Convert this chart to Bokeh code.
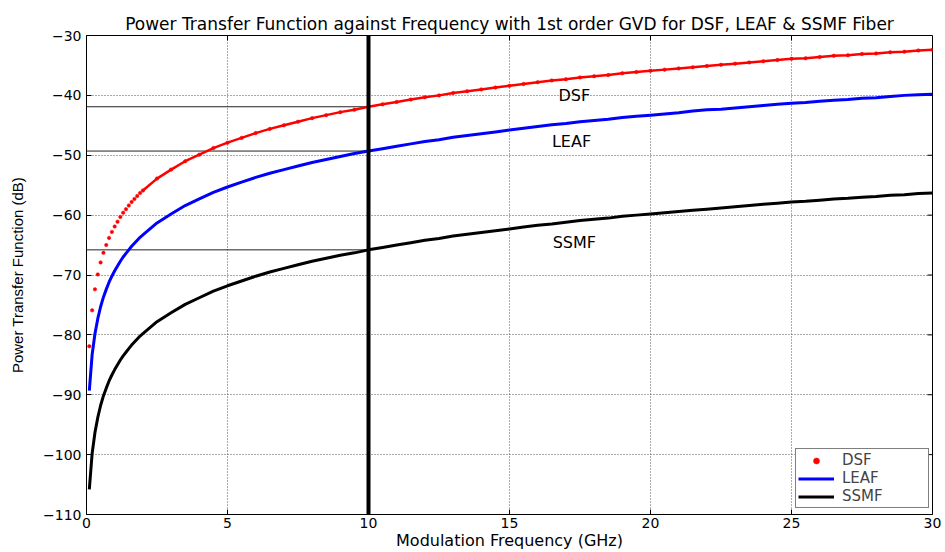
import math
from bokeh.plotting import figure
from bokeh.models import (Span, FixedTicker, Legend, LegendItem,
                          Range1d, ColumnDataSource)
from bokeh.embed import file_html
from bokeh.resources import INLINE

# ---------------- data ----------------
freq_ghz = [0.1, 0.2, 0.3, 0.4, 0.5, 0.6, 0.7, 0.8, 0.9, 1.0,
            1.1, 1.2, 1.3, 1.4, 1.5, 1.6, 1.7, 1.8, 1.9, 2.0,
            2.5, 3.0, 3.5, 4.0, 4.5, 5.0, 5.5, 6.0, 6.5, 7.0,
            7.5, 8.0, 8.5, 9.0, 9.5, 10.0, 10.5, 11.0, 11.5, 12.0,
            12.5, 13.0, 13.5, 14.0, 14.5, 15.0, 15.5, 16.0, 16.5, 17.0,
            17.5, 18.0, 18.5, 19.0, 19.5, 20.0, 20.5, 21.0, 21.5, 22.0,
            22.5, 23.0, 23.5, 24.0, 24.5, 25.0, 25.5, 26.0, 26.5, 27.0,
            27.5, 28.0, 28.5, 29.0, 29.5, 30.0]

dsf_db = [-81.9, -75.9, -72.4, -69.9, -67.9, -66.3, -65.0, -63.8, -62.8, -61.9,
          -61.1, -60.3, -59.6, -59.0, -58.4, -57.8, -57.3, -56.8, -56.3, -55.9,
          -53.9, -52.4, -51.0, -49.9, -48.8, -47.9, -47.1, -46.3, -45.6, -45.0,
          -44.4, -43.8, -43.3, -42.8, -42.4, -41.9, -41.5, -41.1, -40.7, -40.3,
          -40.0, -39.6, -39.3, -39.0, -38.7, -38.4, -38.1, -37.8, -37.5, -37.3,
          -37.0, -36.8, -36.6, -36.3, -36.1, -35.9, -35.7, -35.5, -35.3, -35.1,
          -34.9, -34.7, -34.5, -34.3, -34.1, -33.9, -33.8, -33.6, -33.4, -33.3,
          -33.1, -33.0, -32.8, -32.7, -32.5, -32.4]

leaf_db = [-89.3, -83.3, -79.8, -77.3, -75.3, -73.7, -72.4, -71.2, -70.2, -69.3,
           -68.5, -67.7, -67.0, -66.4, -65.8, -65.2, -64.7, -64.2, -63.7, -63.3,
           -61.3, -59.8, -58.4, -57.3, -56.2, -55.3, -54.5, -53.7, -53.0, -52.4,
           -51.8, -51.2, -50.7, -50.2, -49.7, -49.3, -48.9, -48.5, -48.1, -47.7,
           -47.4, -47.0, -46.7, -46.4, -46.1, -45.8, -45.5, -45.2, -44.9, -44.7,
           -44.4, -44.2, -44.0, -43.7, -43.5, -43.3, -43.1, -42.9, -42.6, -42.4,
           -42.3, -42.1, -41.9, -41.7, -41.5, -41.3, -41.2, -41.0, -40.8, -40.7,
           -40.5, -40.4, -40.2, -40.0, -39.9, -39.8]

ssmf_db = [-105.8, -99.8, -96.3, -93.8, -91.8, -90.2, -88.9, -87.7, -86.7, -85.8,
           -85.0, -84.2, -83.5, -82.9, -82.3, -81.7, -81.2, -80.7, -80.2, -79.8,
           -77.8, -76.3, -74.9, -73.8, -72.7, -71.8, -71.0, -70.2, -69.5, -68.9,
           -68.3, -67.7, -67.2, -66.7, -66.3, -65.8, -65.4, -65.0, -64.6, -64.2,
           -63.9, -63.5, -63.2, -62.9, -62.6, -62.3, -62.0, -61.7, -61.5, -61.2,
           -60.9, -60.7, -60.5, -60.2, -60.0, -59.8, -59.6, -59.4, -59.2, -59.0,
           -58.8, -58.6, -58.4, -58.2, -58.0, -57.8, -57.7, -57.5, -57.3, -57.2,
           -57.0, -56.9, -56.7, -56.6, -56.4, -56.3]

x_ticks = [0, 5, 10, 15, 20, 25, 30]
y_ticks = [-110, -100, -90, -80, -70, -60, -50, -40, -30]

ref_freq = 10
ref_levels = [-41.9, -49.3, -65.8]

curve_names = ["DSF", "LEAF", "SSMF"]
name_x = [17.3, 17.2, 17.3]
name_y = [-40.0, -47.7, -64.6]

TITLE = ("Power Transfer Function against Frequency with 1st order GVD "
         "for DSF, LEAF & SSMF Fiber")

X_MIN, X_MAX, Y_MIN, Y_MAX = 0, 30, -110, -30

# ---------------- figure ----------------
p = figure(width=945, height=552,
           x_range=Range1d(X_MIN, X_MAX), y_range=Range1d(Y_MIN, Y_MAX),
           output_backend="svg", toolbar_location=None,
           min_border_left=86, min_border_right=13,
           min_border_top=35, min_border_bottom=38,
           title=TITLE)
p.background_fill_color = "white"
p.border_fill_color = "white"
p.outline_line_color = "black"
p.outline_line_width = 1

p.title.align = "center"
p.title.text_font = "DejaVu Sans"
p.title.text_font_size = "17px"
p.title.text_font_style = "normal"
p.title.text_color = "black"
p.title.standoff = 3

for ax in (p.xaxis[0], p.yaxis[0]):
    ax.major_tick_in = 5
    ax.major_tick_out = 0
    ax.minor_tick_line_color = None
    ax.axis_line_color = "black"
    ax.major_tick_line_color = "black"
    ax.major_label_text_font = "DejaVu Sans"
    ax.major_label_text_font_size = "14px"
    ax.major_label_text_color = "black"
    ax.axis_label_text_font_style = "normal"
    ax.axis_label_text_color = "black"

p.xaxis[0].ticker = FixedTicker(ticks=x_ticks)
p.yaxis[0].ticker = FixedTicker(ticks=y_ticks)
p.xaxis[0].major_label_standoff = 3
p.yaxis[0].major_label_standoff = 5
p.xaxis[0].axis_label = "Modulation Frequency (GHz)"
p.xaxis[0].axis_label_text_font = "DejaVu Sans"
p.xaxis[0].axis_label_text_font_size = "16px"
p.xaxis[0].axis_label_standoff = 0
p.yaxis[0].axis_label = "Power Transfer Function (dB)"
p.yaxis[0].axis_label_text_font = "Liberation Sans"
p.yaxis[0].axis_label_text_font_size = "15px"
p.yaxis[0].axis_label_standoff = 14

p.xgrid.ticker = FixedTicker(ticks=x_ticks)
p.ygrid.ticker = FixedTicker(ticks=y_ticks)
for g in (p.xgrid, p.ygrid):
    g.grid_line_color = "#555555"
    g.grid_line_dash = "1 2"
    g.grid_line_width = 1

# inward ticks on the top and right edges of the box
p.ray(x=x_ticks, y=[Y_MAX] * len(x_ticks), length=5, length_units="screen",
      angle=-math.pi / 2, line_color="black", line_width=1)
p.ray(x=[X_MAX] * len(y_ticks), y=y_ticks, length=5, length_units="screen",
      angle=math.pi, line_color="black", line_width=1)

# reference levels at 10 GHz
p.segment(x0=[X_MIN - 1] * len(ref_levels), y0=ref_levels,
          x1=[ref_freq] * len(ref_levels), y1=ref_levels,
          line_color="#222222", line_width=1)

src = ColumnDataSource(dict(f=freq_ghz, dsf=dsf_db, leaf=leaf_db, ssmf=ssmf_db))
dense = freq_ghz.index(2.0)
src_dense = ColumnDataSource(dict(f=freq_ghz[dense:], dsf=dsf_db[dense:]))

p.line("f", "dsf", source=src_dense, line_color="#ff0000", line_width=2.5)
r_dsf = p.scatter("f", "dsf", source=src, marker="circle", size=3.5,
                  fill_color="#ff0000", line_color="#ff0000", line_width=0.5)
r_leaf = p.line("f", "leaf", source=src, line_color="#0000ff", line_width=3)
r_ssmf = p.line("f", "ssmf", source=src, line_color="black", line_width=3)

p.add_layout(Span(location=ref_freq, dimension="height",
                  line_color="black", line_width=4))

p.text(x=name_x, y=name_y, text=curve_names, text_align="center",
       text_baseline="middle", text_font_size="16px",
       text_font={"value": "DejaVu Sans"}, text_color="black")

legend = Legend(items=[LegendItem(label="DSF", renderers=[r_dsf]),
                       LegendItem(label="LEAF", renderers=[r_leaf]),
                       LegendItem(label="SSMF", renderers=[r_ssmf])],
                location=(709, 6), margin=0, padding=2, spacing=0,
                glyph_width=36, glyph_height=15, label_height=15,
                label_width=84, label_standoff=8,
                label_text_font="DejaVu Sans", label_text_font_size="15px",
                border_line_color="black", border_line_width=1,
                background_fill_color="white", background_fill_alpha=1)
p.add_layout(legend, "center")

open("out.html", "w").write(file_html(p, INLINE))
